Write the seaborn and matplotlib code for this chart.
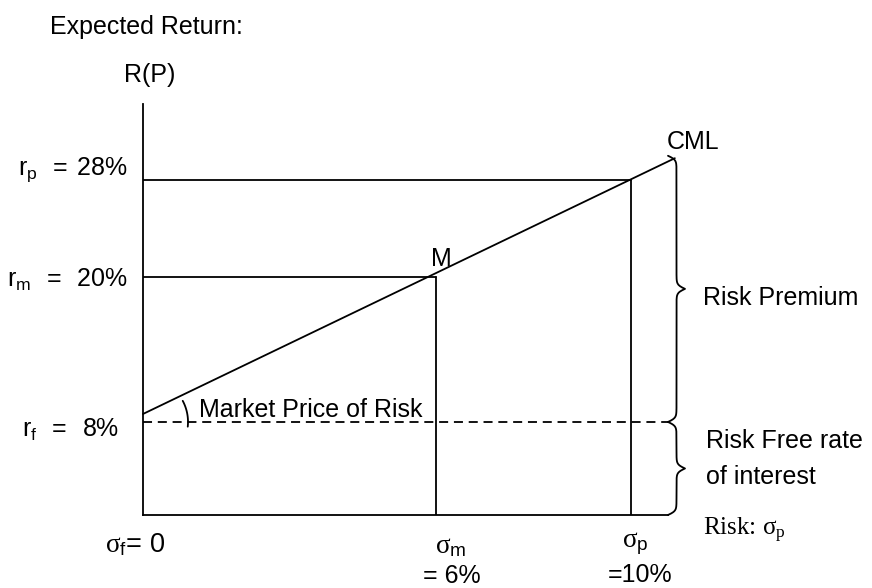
import numpy as np
import pandas as pd
import matplotlib.pyplot as plt
import seaborn as sns

# values (risk in %, return in %)
sigma_f, sigma_m, sigma_p = 0, 6, 10
r_f, r_m, r_p = 8, 20, 28
cml_x = [0, 10.9]
cml_y = [8.66, 29.8]
x_min, x_max = 0, 10.76
y_min, y_max = 0.31, 34.28

sns.set_style('white')
plt.rcParams['font.family'] = ['Liberation Sans', 'DejaVu Sans']
plt.rcParams['mathtext.fontset'] = 'custom'
plt.rcParams['mathtext.rm'] = 'Liberation Serif'
plt.rcParams['mathtext.sf'] = 'Liberation Sans'
plt.rcParams['mathtext.it'] = 'Liberation Serif:italic'
plt.rcParams['text.color'] = 'black'

W, H = 872, 588
fig = plt.figure(figsize=(W / 100, H / 100), dpi=100)
ax = fig.add_axes([143 / W, 73 / H, 525 / W, 411 / H])
ax.set_xlim(x_min, x_max)
ax.set_ylim(y_min, y_max)
for s in ['top', 'right']:
    ax.spines[s].set_visible(False)
for s in ['left', 'bottom']:
    ax.spines[s].set_linewidth(1.3)
    ax.spines[s].set_color('black')
ax.set_xticks([])
ax.set_yticks([])

lw = 1.3
# capital market line
cml = pd.DataFrame({'risk': cml_x, 'ret': cml_y})
sns.lineplot(data=cml, x='risk', y='ret', ax=ax, color='black', lw=lw, clip_on=False)

# guide lines for M and P
ax.plot([0, sigma_p], [r_p, r_p], color='black', lw=lw)
ax.plot([sigma_p, sigma_p], [y_min, r_p], color='black', lw=lw)
ax.plot([0, sigma_m], [r_m, r_m], color='black', lw=lw)
ax.plot([sigma_m, sigma_m], [y_min, r_m], color='black', lw=lw)
ax.plot([0, x_max], [r_f, r_f], color='black', lw=lw, ls=(0, (5, 3.2)))

to_px = ax.transData.transform
to_data = ax.transData.inverted().transform


def brace(y0, y1, w=17, r=2.0):
    # vertical curly brace pointing right, built in pixels then mapped back
    x0 = to_px((x_max, 0))[0]
    p0 = to_px((0, y0))[1]
    p1 = to_px((0, y1))[1]
    half = (p1 - p0) / 2
    t = np.linspace(0, half, 200)
    s = 1 / (1 + np.exp(-t / r)) + 1 / (1 + np.exp(-(t - half) / r))
    xh = x0 + w * (s - 0.5)
    xs = np.concatenate([xh, xh[::-1]])
    ys = np.concatenate([p0 + t, p1 - t[::-1]])
    pts = to_data(np.column_stack([xs, ys]))
    ax.plot(pts[:, 0], pts[:, 1], color='black', lw=lw, clip_on=False)


brace(r_f, cml_y[1] + 0.2)
brace(y_min, r_f)

# angle arc for market price of risk
c = to_px((0, r_f))
ang = np.radians(np.linspace(-6, 28, 40))
arc = to_data(np.column_stack([c[0] + 45 * np.cos(ang), c[1] + 45 * np.sin(ang)]))
ax.plot(arc[:, 0], arc[:, 1], color='black', lw=lw)


def put(px, py, s, ha='left', size=18, **kw):
    fig.text(px / W, 1 - py / H, s, ha=ha, va='baseline', fontsize=size,
             color='black', **kw)


put(50, 34, 'Expected Return:')
put(150, 82, 'R(P)', ha='center')
put(667, 149, 'CML')
put(441, 266, 'M', ha='center')
put(703, 305, 'Risk Premium')
put(706, 448, 'Risk Free rate')
put(706, 484, 'of interest')
put(703, 535, r'Risk: $\mathrm{\sigma_p}$', family='Liberation Serif')
put(199, 417, 'Market Price of Risk')

put(128, 175, r'$\mathsf{r_p\ \ =\ %d\%%}$' % r_p, ha='right')
put(128, 287, r'$\mathsf{r_m\ \ =\ \ %d\%%}$' % r_m, ha='right')
put(119, 437, r'$\mathsf{r_f\ \ =\ \ %d\%%}$' % r_f, ha='right')

put(105, 552, r'$\mathrm{\sigma}_{\mathsf{f}}$= %d' % sigma_f, size=19.5)
put(451, 553, r'$\mathrm{\sigma}_{\mathsf{m}}$', ha='center', size=19.5)
put(452, 583, '= %d%%' % sigma_m, ha='center')
put(635, 547, r'$\mathrm{\sigma}_{\mathsf{p}}$', ha='center', size=19.5)
put(640, 582, '=%d%%' % sigma_p, ha='center')

plt.savefig('out.png', dpi=100)
